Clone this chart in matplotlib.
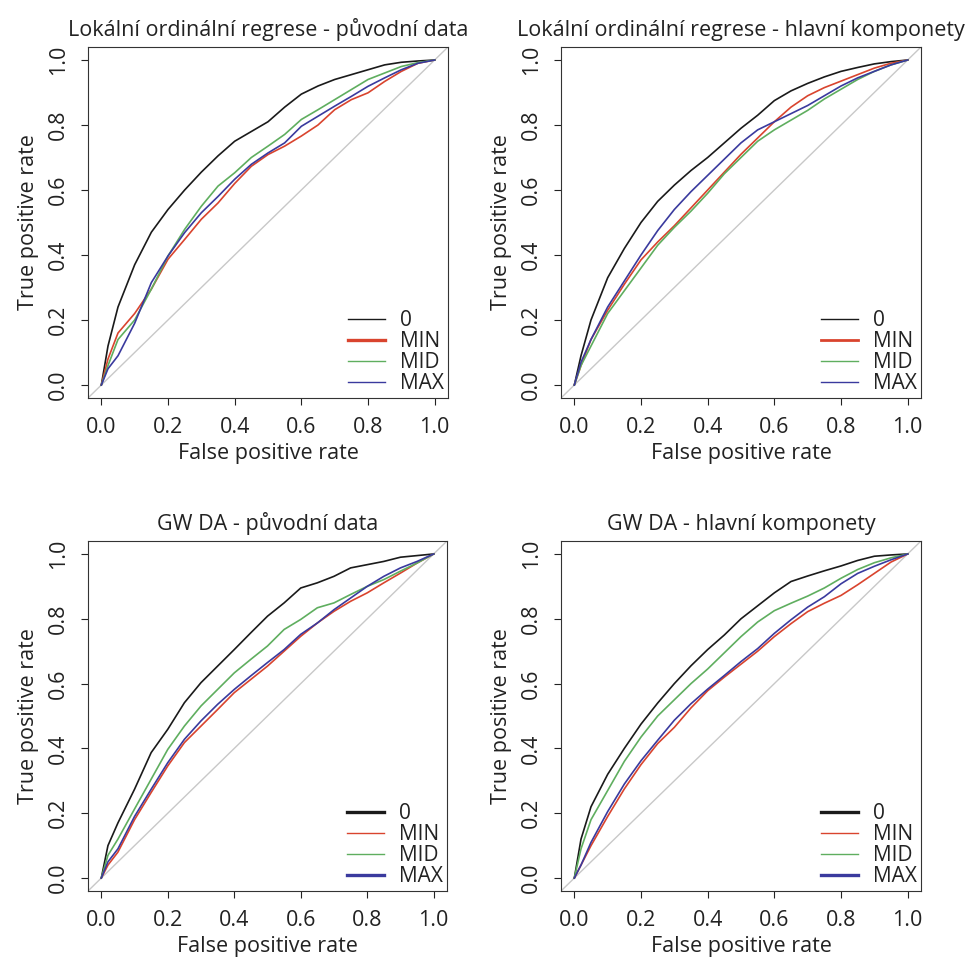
import matplotlib
matplotlib.use("Agg")
import matplotlib.pyplot as plt

plt.rcParams['font.family'] = ['Open Sans', 'DejaVu Sans']

# shared false positive rate grid
fpr = [0, .02, .05, .1, .15, .2, .25, .3, .35, .4, .45, .5,
       .55, .6, .65, .7, .75, .8, .85, .9, .95, 1]

labels = ['0', 'MIN', 'MID', 'MAX']
colors = ['#1a1a1a', '#d9442e', '#5fae5f', '#3a3a9e']

titles = ['Lokální ordinální regrese - původní data',
          'Lokální ordinální regrese - hlavní komponety',
          'GW DA - původní data',
          'GW DA - hlavní komponety']

# true positive rates per panel, order: 0, MIN, MID, MAX
lor_orig_0 = [0, .12, .24, .37, .47, .54, .60, .655, .705, .75, .78, .81,
              .855, .895, .92, .94, .955, .97, .985, .993, .997, 1]
lor_orig_min = [0, .08, .16, .22, .295, .387, .448, .51, .56, .62, .673, .709,
                .735, .766, .80, .847, .878, .899, .934, .965, .99, 1]
lor_orig_mid = [0, .06, .14, .20, .295, .397, .479, .55, .612, .653, .70, .735,
                .771, .817, .847, .878, .909, .94, .96, .98, .992, 1]
lor_orig_max = [0, .05, .09, .19, .315, .397, .469, .53, .58, .633, .679, .714,
                .745, .796, .827, .858, .888, .919, .945, .97, .99, 1]

lor_pc_0 = [0, .09, .20, .33, .42, .50, .565, .615, .66, .70, .745, .79,
            .83, .875, .905, .928, .948, .965, .977, .988, .995, 1]
lor_pc_min = [0, .06, .14, .23, .31, .385, .44, .49, .545, .60, .655, .71,
              .76, .81, .855, .89, .915, .935, .955, .975, .99, 1]
lor_pc_mid = [0, .06, .12, .22, .29, .36, .43, .485, .535, .59, .65, .70,
              .75, .785, .815, .845, .88, .91, .94, .965, .985, 1]
lor_pc_max = [0, .07, .14, .24, .32, .40, .475, .54, .595, .645, .695, .745,
              .785, .81, .835, .86, .89, .92, .945, .965, .985, 1]

gw_orig_0 = [0, .10, .17, .274, .387, .459, .541, .603, .654, .705, .757, .808,
             .849, .895, .911, .931, .957, .967, .977, .99, .995, 1]
gw_orig_min = [0, .04, .08, .18, .264, .346, .418, .469, .52, .572, .613, .654,
               .70, .746, .787, .823, .854, .88, .911, .941, .972, 1]
gw_orig_mid = [0, .07, .12, .213, .305, .397, .469, .531, .582, .633, .675, .716,
               .767, .798, .834, .849, .875, .90, .921, .947, .972, 1]
gw_orig_max = [0, .05, .09, .19, .274, .356, .428, .485, .536, .582, .624, .665,
               .705, .752, .787, .828, .864, .90, .931, .957, .977, 1]

gw_pc_0 = [0, .12, .22, .32, .40, .475, .54, .60, .655, .705, .75, .80,
           .84, .88, .915, .932, .948, .963, .98, .993, .997, 1]
gw_pc_min = [0, .04, .10, .19, .275, .35, .415, .465, .525, .578, .62, .66,
             .70, .745, .785, .822, .848, .872, .905, .94, .975, 1]
gw_pc_mid = [0, .09, .18, .27, .36, .435, .50, .55, .60, .645, .695, .745,
             .79, .825, .848, .87, .895, .925, .952, .973, .988, 1]
gw_pc_max = [0, .04, .11, .205, .29, .362, .425, .487, .538, .583, .625, .668,
             .708, .755, .797, .836, .868, .908, .94, .962, .982, 1]

panels = [
    [lor_orig_0, lor_orig_min, lor_orig_mid, lor_orig_max],
    [lor_pc_0, lor_pc_min, lor_pc_mid, lor_pc_max],
    [gw_orig_0, gw_orig_min, gw_orig_mid, gw_orig_max],
    [gw_pc_0, gw_pc_min, gw_pc_mid, gw_pc_max],
]

# legend line widths differ between panels in the original
legend_lw = [[1, 2.4, 1, 1], [1, 2.0, 1, 1], [2.4, 1, 1, 2.4], [2.4, 1, 1, 2.4]]

W, H = 971, 963
fig = plt.figure(figsize=(W / 100, H / 100), dpi=100)

# axes boxes in pixels: left, top, right, bottom
boxes = [(88, 47, 448, 398), (561, 47, 921, 398),
         (88, 541, 447, 891), (561, 541, 921, 891)]

ticks = [0, 0.2, 0.4, 0.6, 0.8, 1.0]
fs = 15.5

for i, (l, t, r, b) in enumerate(boxes):
    ax = fig.add_axes([l / W, (H - b) / H, (r - l) / W, (b - t) / H])
    ax.axline((0, 0), (1, 1), color='#c8c8c8', lw=1)
    for tpr, c, lab in zip(panels[i], colors, labels):
        ax.plot(fpr, tpr, color=c, lw=1.2, label=lab)
    ax.set_xlim(-0.04, 1.04)
    ax.set_ylim(-0.04, 1.04)
    ax.set_xticks(ticks)
    ax.set_yticks(ticks)
    ax.set_xticklabels([f'{v:.1f}' for v in ticks])
    ax.set_yticklabels([f'{v:.1f}' for v in ticks], rotation=90, va='center')
    ax.tick_params(direction='out', length=5, width=0.8, labelsize=fs,
                   pad=9, colors='#222222')
    for s in ax.spines.values():
        s.set_linewidth(0.8)
        s.set_color('#333333')
    ax.set_title(titles[i], fontsize=fs, pad=8, color='#222222')
    ax.set_xlabel('False positive rate', fontsize=fs, labelpad=3, color='#222222')
    ax.set_ylabel('True positive rate', fontsize=fs, labelpad=6, color='#222222')
    leg = ax.legend(loc='lower right', bbox_to_anchor=(1.0, 0.0), frameon=False,
                    fontsize=15, handlelength=1.8, handletextpad=0.7,
                    labelspacing=0.0, borderaxespad=0.1, borderpad=0.1)
    for h, lw in zip(leg.get_lines(), legend_lw[i]):
        h.set_linewidth(lw)
    for txt in leg.get_texts():
        txt.set_color('#222222')

fig.savefig('out.png', dpi=100)
